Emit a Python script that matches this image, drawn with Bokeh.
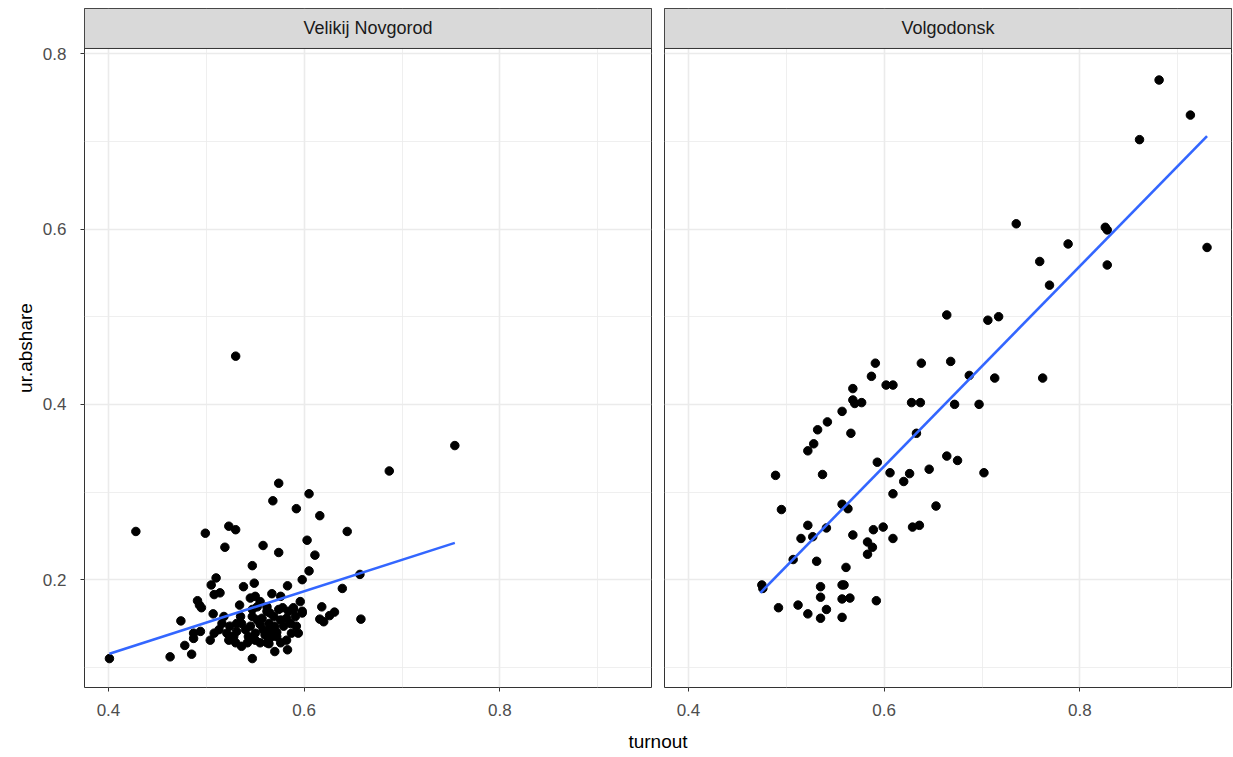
from bokeh.plotting import figure
from bokeh.layouts import column, row
from bokeh.models import Range1d, FixedTicker, Label, NumeralTickFormatter
from bokeh.embed import file_html
from bokeh.resources import INLINE

# ---------------- data ----------------
facets = ["Velikij Novgorod", "Volgodonsk"]

nov_turnout = [0.401, 0.428, 0.463, 0.474, 0.478, 0.485, 0.487, 0.487, 0.494, 0.499,
               0.519, 0.523, 0.530, 0.491, 0.493, 0.495, 0.505, 0.510, 0.508, 0.514,
               0.507, 0.538, 0.549, 0.547, 0.558, 0.574, 0.568, 0.574, 0.547, 0.570,
               0.564, 0.605, 0.592, 0.616, 0.603, 0.611, 0.644, 0.605, 0.598, 0.583,
               0.567, 0.576, 0.545, 0.550, 0.534, 0.578, 0.589, 0.598, 0.596, 0.639,
               0.618, 0.616, 0.620, 0.626, 0.631, 0.583, 0.754, 0.687, 0.657, 0.658,
               0.530,
               0.518, 0.516, 0.524, 0.521, 0.526, 0.531, 0.536, 0.540, 0.545, 0.547,
               0.543, 0.550, 0.555, 0.557, 0.562, 0.564, 0.565, 0.570, 0.572, 0.576,
               0.579, 0.582, 0.586, 0.591, 0.592, 0.594, 0.598, 0.587, 0.582, 0.576,
               0.567, 0.562, 0.555, 0.550, 0.542, 0.536, 0.530, 0.528, 0.523, 0.513,
               0.508, 0.504, 0.555, 0.562, 0.565, 0.574, 0.547, 0.552, 0.569, 0.558,
               0.552, 0.535, 0.531, 0.584, 0.589, 0.572, 0.560]
nov_share = [0.110, 0.255, 0.112, 0.153, 0.125, 0.115, 0.133, 0.139, 0.141, 0.253,
             0.237, 0.261, 0.257, 0.176, 0.171, 0.168, 0.194, 0.202, 0.183, 0.185,
             0.161, 0.192, 0.196, 0.216, 0.239, 0.231, 0.290, 0.310, 0.110, 0.118,
             0.127, 0.298, 0.281, 0.273, 0.245, 0.228, 0.255, 0.210, 0.200, 0.193,
             0.184, 0.181, 0.179, 0.181, 0.171, 0.168, 0.168, 0.164, 0.175, 0.190,
             0.169, 0.155, 0.152, 0.159, 0.163, 0.120, 0.353, 0.324, 0.206, 0.155,
             0.455,
             0.158, 0.150, 0.147, 0.139, 0.135, 0.141, 0.150, 0.143, 0.147, 0.158,
             0.135, 0.139, 0.149, 0.156, 0.164, 0.150, 0.143, 0.147, 0.135, 0.154,
             0.147, 0.156, 0.150, 0.158, 0.147, 0.139, 0.162, 0.139, 0.131, 0.128,
             0.135, 0.128, 0.128, 0.131, 0.128, 0.124, 0.128, 0.135, 0.131, 0.143,
             0.139, 0.131, 0.175, 0.169, 0.162, 0.166, 0.166, 0.169, 0.158, 0.143,
             0.154, 0.158, 0.150, 0.164, 0.166, 0.140, 0.137]

vol_turnout = [0.881, 0.913, 0.861, 0.735, 0.826, 0.828, 0.788, 0.930, 0.759, 0.828,
               0.769, 0.706, 0.717, 0.664, 0.591, 0.638, 0.668, 0.587, 0.602, 0.609,
               0.687, 0.713, 0.762, 0.568, 0.568, 0.570, 0.577, 0.628, 0.637, 0.672,
               0.697, 0.566, 0.633, 0.664, 0.675, 0.593, 0.702, 0.606, 0.626, 0.620,
               0.646, 0.609, 0.653, 0.589, 0.599, 0.629, 0.636, 0.557, 0.542, 0.532,
               0.528, 0.522, 0.489, 0.537, 0.495, 0.557, 0.563, 0.522, 0.515, 0.527,
               0.541, 0.568, 0.583, 0.588, 0.583, 0.609, 0.507, 0.531, 0.561, 0.475,
               0.476, 0.535, 0.557, 0.559, 0.535, 0.557, 0.565, 0.592, 0.492, 0.512,
               0.522, 0.541, 0.535, 0.557]
vol_share = [0.770, 0.730, 0.702, 0.606, 0.602, 0.599, 0.583, 0.579, 0.563, 0.559,
             0.536, 0.496, 0.500, 0.502, 0.447, 0.447, 0.449, 0.432, 0.422, 0.422,
             0.433, 0.430, 0.430, 0.418, 0.405, 0.401, 0.402, 0.402, 0.402, 0.400,
             0.400, 0.367, 0.367, 0.341, 0.336, 0.334, 0.322, 0.322, 0.321, 0.312,
             0.326, 0.298, 0.284, 0.257, 0.260, 0.260, 0.262, 0.392, 0.380, 0.371,
             0.355, 0.347, 0.319, 0.320, 0.280, 0.286, 0.281, 0.262, 0.247, 0.249,
             0.259, 0.251, 0.243, 0.237, 0.229, 0.247, 0.223, 0.221, 0.214, 0.194,
             0.190, 0.192, 0.194, 0.194, 0.180, 0.178, 0.179, 0.176, 0.168, 0.171,
             0.161, 0.166, 0.156, 0.157]

# fitted (lm) lines
nov_fit_turnout = [0.401, 0.754]
nov_fit_share = [0.1155, 0.242]
vol_fit_turnout = [0.4735, 0.930]
vol_fit_share = [0.185, 0.706]

x_major = [0.4, 0.6, 0.8]
x_minor = [0.5, 0.7, 0.9]
y_major = [0.2, 0.4, 0.6, 0.8]
y_minor = [0.1, 0.3, 0.5, 0.7]
x_title = "turnout"
y_title = "ur.abshare"

# ---------------- layout constants ----------------
X0, X1 = 0.3755, 0.955
Y0, Y1 = 0.077, 0.806
YS = 0.8516           # top of facet strip
FONT = "Liberation Sans"
FIG_H = 727


def make_panel(name, tx, ty, fx, fy, show_y):
    left = 84 if show_y else 12
    pw = 567
    p = figure(width=left + pw + 1, height=FIG_H,
               x_range=Range1d(X0, X1), y_range=Range1d(Y0, YS),
               output_backend="svg", toolbar_location=None,
               min_border_left=left, min_border_right=1,
               min_border_top=8, min_border_bottom=40,
               y_axis_location="left" if show_y else None)
    p.background_fill_color = "white"
    p.border_fill_color = "white"
    p.outline_line_color = "#333333"
    p.outline_line_width = 1

    xt = FixedTicker(ticks=x_major, minor_ticks=x_minor)
    yt = FixedTicker(ticks=y_major, minor_ticks=y_minor)
    p.xgrid.ticker = xt
    p.ygrid.ticker = yt
    for g in (p.xgrid, p.ygrid):
        g.grid_line_color = "#EBEBEB"
        g.grid_line_width = 1.6
        g.minor_grid_line_color = "#EBEBEB"
        g.minor_grid_line_width = 0.8

    p.xaxis.ticker = FixedTicker(ticks=x_major)
    p.xaxis.formatter = NumeralTickFormatter(format="0.0")
    axes = [p.xaxis[0]]
    if show_y:
        p.yaxis.ticker = FixedTicker(ticks=y_major)
        p.yaxis.formatter = NumeralTickFormatter(format="0.0")
        p.yaxis.axis_label = y_title
        p.yaxis.axis_label_text_font = FONT
        p.yaxis.axis_label_text_font_size = "19px"
        p.yaxis.axis_label_text_font_style = "normal"
        p.yaxis.axis_label_text_color = "black"
        p.yaxis.axis_label_standoff = 4
        p.yaxis.major_label_standoff = 14
        axes.append(p.yaxis[0])
    for ax in axes:
        ax.axis_line_color = None
        ax.major_tick_line_color = "#333333"
        ax.major_tick_line_width = 1
        ax.major_tick_out = 4
        ax.major_tick_in = 0
        ax.minor_tick_line_color = None
        ax.major_label_text_font = FONT
        ax.major_label_text_font_size = "17px"
        ax.major_label_text_color = "#4D4D4D"
    p.xaxis.major_label_standoff = 12

    # facet strip
    p.quad(left=X0, right=X1, bottom=Y1, top=YS,
           fill_color="#D9D9D9", line_color="#333333", line_width=1)
    p.add_layout(Label(x=(X0 + X1) / 2, y=(Y1 + YS) / 2, text=name,
                       text_align="center", text_baseline="middle",
                       text_font=FONT, text_font_size="18px",
                       text_color="#1A1A1A"))

    p.scatter(tx, ty, size=8.5, color="black")
    p.line(fx, fy, line_color="#3366FF", line_width=2.6)
    return p


p1 = make_panel(facets[0], nov_turnout, nov_share, nov_fit_turnout, nov_fit_share, True)
p2 = make_panel(facets[1], vol_turnout, vol_share, vol_fit_turnout, vol_fit_share, False)

total_w = p1.width + p2.width
TH = 28
pt = figure(width=total_w, height=TH, x_range=Range1d(0, total_w), y_range=Range1d(0, TH),
            output_backend="svg", toolbar_location=None,
            min_border=0, x_axis_location=None, y_axis_location=None)
pt.outline_line_color = None
pt.xgrid.visible = False
pt.ygrid.visible = False
pt.add_layout(Label(x=(84 + 1231) / 2, y=TH - 14, text=x_title,
                    text_align="center", text_baseline="middle",
                    text_font=FONT, text_font_size="19px", text_color="black"))

layout = column(row(p1, p2), pt)

open("out.html", "w").write(file_html(layout, INLINE))
